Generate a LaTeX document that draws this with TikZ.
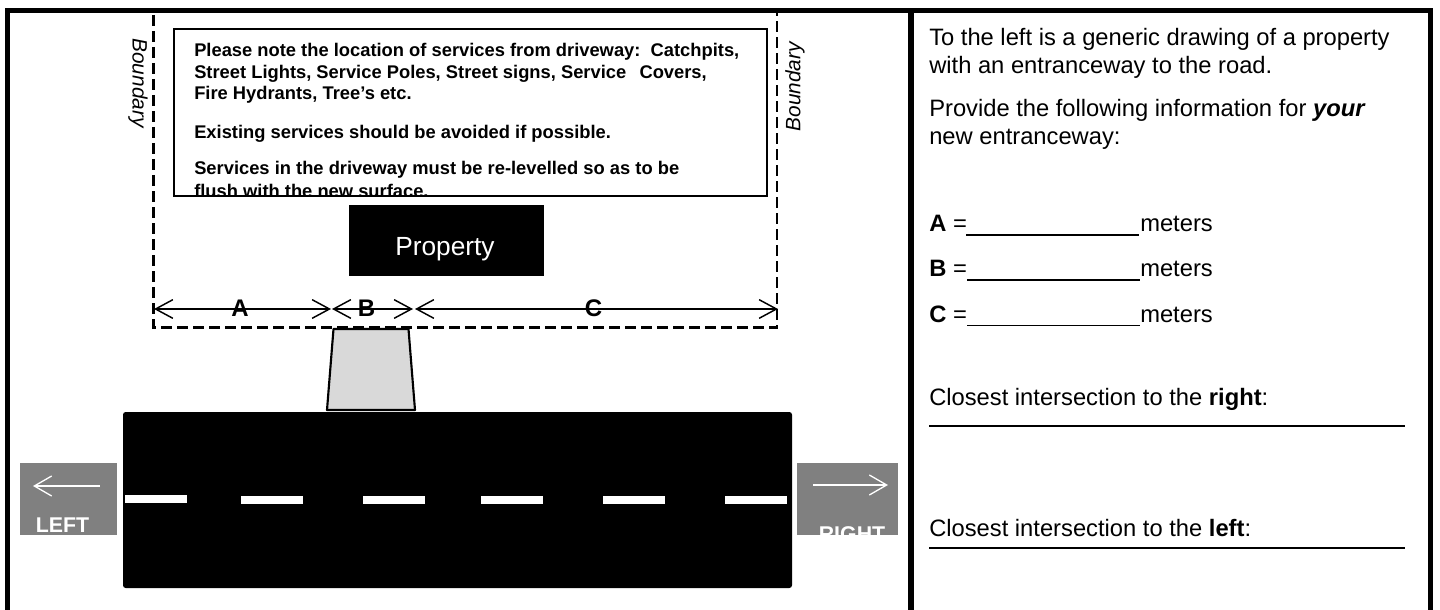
\documentclass[tikz,border=0pt]{standalone}
\usepackage{fontspec}
\setmainfont{Liberation Sans}
\usetikzlibrary{arrows.meta}
\tikzset{
  x=0.75pt,y=-0.75pt,
  frameline/.style={line width=4.2pt,black},
  bound/.style={line width=1.9pt,dash pattern=on 8pt off 4pt},
  solidbox/.style={fill=black,draw=none},
  note/.style={anchor=base west,inner sep=0pt,font=\fontsize{13.75}{13.75}\selectfont\bfseries},
  body/.style={anchor=base west,inner sep=0pt,font=\fontsize{17.8}{17.8}\selectfont},
  bdy/.style={inner sep=0pt,font=\fontsize{15.6}{15.6}\selectfont\itshape},
  dim/.style={line width=1.1pt,{Straight Barb[length=13pt,width=14pt]}-{Straight Barb[length=13pt,width=14pt]}},
  dimtxt/.style={inner sep=0pt,font=\fontsize{18}{18}\selectfont\bfseries},
  wline/.style={line width=1pt,white},
  rule/.style={line width=1.2pt},
  roaddash/.style={fill=white,draw=none},
  sign/.style={fill=black!50,draw=none},
  signtxt/.style={inner sep=0pt,anchor=base,text=white,font=\fontsize{16}{16}\selectfont\bfseries},
}
\begin{document}
\begin{tikzpicture}
\useasboundingbox (0,0) rectangle (1440,610);
% frame
\draw[frameline] (7.5,610) -- (7.5,10.5) -- (1430.5,10.5) -- (1430.5,610);
\draw[frameline] (911,10.5) -- (911,610);
% boundary
\coordinate (bTL) at (153.5,15);
\coordinate (bBL) at (153.5,327.5);
\coordinate (bBR) at (777,327.5);
\coordinate (bTR) at (777,13);
\draw[bound] (bTL) -- (bBL) -- (bBR) -- (bTR);
\node[bdy,rotate=-90] (bl) at (138,83) {Boundary};
\node[bdy,rotate=90] (br) at (795,86.7) {Boundary};
% notes box
\begin{scope}
\clip (174,29) rectangle (767,196);
\node[note] (n1) at (194,57) {Please note the location of services from driveway:\ \ Catchpits,};
\node[note] (n2) at (194,79) {Street Lights, Service Poles, Street signs, Service\ \ \,Covers,};
\node[note] (n3) at (194,100) {Fire Hydrants, Tree’s etc.};
\node[note] (n4) at (194,138) {Existing services should be avoided if possible.};
\node[note] (n5) at (194,175) {Services in the driveway must be re-levelled so as to be};
\node[note] (n6) at (194,197) {flush with the new surface.};
\end{scope}
\draw[line width=0.8pt] (174,29) rectangle (767,196);
% property
\node[solidbox,minimum width=146.25pt,minimum height=53pt,inner sep=0pt] (prop) at (446.5,240.3) {};
\node[inner sep=0pt,anchor=base,text=white,font=\fontsize{19.7}{19.7}\selectfont] (proptxt) at (445,255) {Property};
% dimensions
\coordinate (d0) at (154,309);
\coordinate (d1) at (331,309);
\coordinate (d2) at (332,309);
\coordinate (d3) at (413,309);
\coordinate (d4) at (415,309);
\coordinate (d5) at (778,309);
\draw[dim] (d0) -- (d1);
\draw[dim] (d2) -- (d3);
\draw[dim] (d4) -- (d5);
\node[dimtxt] (la) at (240,308) {A};
\node[dimtxt] (lb) at (366.5,308) {B};
\node[dimtxt] (lc) at (593.5,308) {C};
% driveway and road
\draw[line width=1.6pt,fill=black!15,line join=round] (333.5,329) -- (408.5,329) -- (415,410) -- (327,410) -- cycle;
\fill[black,rounded corners=2pt] (123,412) rectangle (792,588);
\foreach \xa/\ya in {125/495,241/496,363/496,481/496,603/496,725/496}
  \fill[roaddash] (\xa,\ya) rectangle ++(62,8);
% signs
\fill[sign] (20,463) rectangle (117,535);
\fill[sign] (797,463) rectangle (898,535);
\coordinate (la1) at (100,486);
\coordinate (la2) at (33,486);
\coordinate (ra1) at (813,485);
\coordinate (ra2) at (888,485);
\draw[wline,-{Straight Barb[length=13pt,width=15pt]}] (la1) -- (la2);
\draw[wline,-{Straight Barb[length=13pt,width=15pt]}] (ra1) -- (ra2);
\node[signtxt] (ltxt) at (62.5,532) {LEFT};
\begin{scope}
\clip (797,463) rectangle (898,535);
\node[signtxt] (rtxt) at (852,541) {RIGHT};
\end{scope}
% right column
\node[body] (t1) at (929,45.5) {To the left is a generic drawing of a property};
\node[body] (t2) at (929,73.5) {with an entranceway to the road.};
\node[body] (t3) at (929,116.5) {Provide the following information for \textbf{\textit{your}}};
\node[body] (t4) at (929,144) {new entranceway:};
\node[body] (qa) at (929,231) {\textbf{A} =};
\node[body] (qb) at (929,276) {\textbf{B} =};
\node[body] (qc) at (929,322) {\textbf{C} =};
\node[body] (ma) at (1140,231) {meters};
\node[body] (mb) at (1140,276) {meters};
\node[body] (mc) at (1140,322) {meters};
\draw[rule] (966,235) -- (1139,235);
\draw[rule] (967,280) -- (1140,280);
\draw[rule] (967,325.5) -- (1140,325.5);
\node[body] (cr) at (929,405) {Closest intersection to the \textbf{right}:};
\draw[rule] (929,426) -- (1405,426);
\node[body] (cl) at (929,536) {Closest intersection to the \textbf{left}:};
\draw[rule] (929,548) -- (1405,548);
\end{tikzpicture}
\end{document}
